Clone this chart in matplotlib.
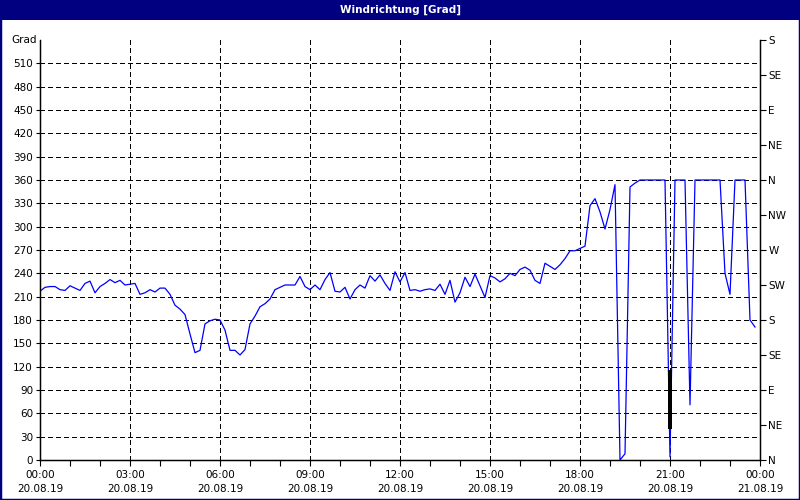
import numpy as np
import pandas as pd
import matplotlib
matplotlib.use("Agg")
import matplotlib.pyplot as plt
import matplotlib.dates as mdates
from matplotlib.patches import Rectangle

# Windrichtung, 10-Minuten-Werte 20.08.19 00:00 .. 23:50
richtung_00_06 = [217, 222, 223, 223, 219, 218, 224, 221, 218, 227, 230, 215,
                  223, 227, 232, 228, 231, 225, 226, 227, 213, 215, 219, 216,
                  221, 221, 213, 199, 194, 187, 162, 138, 141, 175, 179, 181]
richtung_06_12 = [180, 167, 141, 141, 135, 142, 175, 185, 197, 201, 207, 219,
                  222, 225, 225, 225, 236, 223, 219, 225, 219, 232, 241, 217,
                  216, 222, 207, 219, 225, 221, 237, 230, 238, 227, 218, 242]
richtung_12_18 = [229, 241, 218, 219, 217, 219, 220, 218, 226, 213, 231, 203,
                  215, 235, 223, 239, 224, 209, 237, 234, 229, 233, 240, 237,
                  245, 248, 244, 231, 227, 253, 249, 245, 251, 259, 269, 269]
richtung_18_24 = [272, 275, 327, 336, 319, 297, 322, 354, 0, 8, 351, 356,
                  360, 360, 360, 360, 360, 360, 4, 360, 360, 360, 71, 360,
                  360, 360, 360, 360, 360, 240, 213, 360, 360, 360, 180, 171]
richtung = richtung_00_06 + richtung_06_12 + richtung_12_18 + richtung_18_24
zeit = pd.date_range("2019-08-20 00:00", periods=len(richtung), freq="10min")

# schwarzes Stueck bei 21:00
zeit_schwarz = pd.to_datetime(["2019-08-20 21:00", "2019-08-20 21:00"])
wert_schwarz = [113, 42]

grad_ticks = list(range(0, 540, 30))
himmel_ticks = list(range(0, 541, 45))
himmel_labels = ["N", "NE", "E", "SE", "S", "SW", "W", "NW",
                 "N", "NE", "E", "SE", "S"]

navy = "#000080"
plt.rcParams["font.family"] = "DejaVu Sans"
plt.rcParams["font.size"] = 7.5
plt.rcParams["lines.scale_dashes"] = False

fig = plt.figure(figsize=(8, 5), dpi=100)
fig.patch.set_facecolor("white")

# Rahmen und Titelleiste
fig.patches.append(Rectangle((0, 0), 1, 1, transform=fig.transFigure,
                             facecolor="none", edgecolor=navy, linewidth=2.5))
fig.patches.append(Rectangle((0, 1 - 20 / 500), 1, 20 / 500, transform=fig.transFigure,
                             facecolor=navy, edgecolor="none"))
fig.text(0.5, 1 - 10 / 500, "Windrichtung [Grad]", color="white", weight="bold",
         ha="center", va="center", fontsize=7.5)

ax = fig.add_axes([40 / 800, 1 - 460 / 500, 720 / 800, 420 / 500])
t0 = pd.Timestamp("2019-08-20 00:00")
t1 = pd.Timestamp("2019-08-21 00:00")
ax.set_xlim(t0, t1)
ax.set_ylim(0, 540)

ax.plot(zeit, richtung, color="#0000ff", linewidth=0.9, zorder=3)
ax.plot(zeit_schwarz, wert_schwarz, color="black", linewidth=1.6, antialiased=False, zorder=4)

# Gitter
ax.set_yticks(grad_ticks)
ax.set_yticklabels([str(v) for v in grad_ticks])
ax.xaxis.set_major_locator(mdates.HourLocator(byhour=range(0, 24, 3)))
ax.xaxis.set_minor_locator(mdates.HourLocator())
ax.xaxis.set_major_formatter(mdates.DateFormatter("%H:%M\n%d.%m.%y"))
ax.grid(True, which="major", color="black", linestyle=(0, (3, 2.2)),
        linewidth=0.75, antialiased=False)
for lab in ax.get_xticklabels():
    lab.set_linespacing(1.55)

ax.spines["top"].set_visible(False)
for s in ["left", "right", "bottom"]:
    ax.spines[s].set_linewidth(1.0)
ax.tick_params(axis="both", which="both", direction="out", length=3, width=0.8,
               colors="black", pad=2)
ax.tick_params(axis="x", which="both", length=4, pad=3)
ax.text(-0.005, 540, "Grad", transform=ax.get_yaxis_transform(),
        ha="right", va="center")

ax2 = ax.twinx()
ax2.set_ylim(0, 540)
ax2.set_yticks(himmel_ticks)
ax2.set_yticklabels(himmel_labels)
ax2.spines["top"].set_visible(False)
ax2.tick_params(axis="y", direction="out", length=4, width=0.8, pad=2)

fig.savefig("out.png", dpi=100, facecolor="white")
